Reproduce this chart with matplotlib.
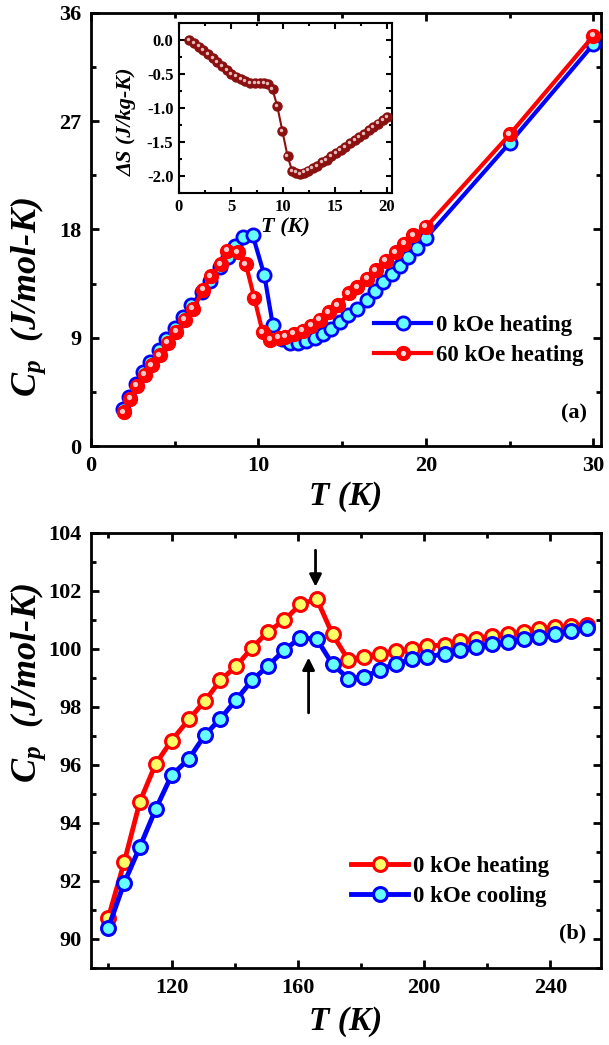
import matplotlib
matplotlib.use('Agg')
import matplotlib.pyplot as plt
from matplotlib.ticker import MultipleLocator, FormatStrFormatter
from matplotlib.transforms import offset_copy
from matplotlib.lines import Line2D
from matplotlib.legend_handler import HandlerTuple

plt.rcParams['font.family'] = ['Liberation Serif', 'DejaVu Serif']
plt.rcParams['font.weight'] = 'bold'
plt.rcParams['axes.unicode_minus'] = False
plt.rcParams['mathtext.fontset'] = 'custom'
plt.rcParams['mathtext.rm'] = 'Liberation Serif:bold'
plt.rcParams['mathtext.it'] = 'Liberation Serif:bold:italic'
plt.rcParams['mathtext.bf'] = 'Liberation Serif:bold'

# ---- panel (a): low temperature Cp ----
T_0k = [1.9, 2.25, 2.7, 3.1, 3.55, 4.05, 4.5, 5.0, 5.5, 6.0, 6.6, 7.1, 7.7, 8.2, 8.6,
        9.1, 9.65, 10.35, 10.85, 11.4, 11.9, 12.35, 12.85, 13.35, 13.85, 14.35, 14.85,
        15.35, 15.9, 16.45, 16.95, 17.45, 17.95, 18.45, 18.95, 19.45, 20.0, 25.0, 30.0]
Cp_0k = [3.1, 4.1, 5.15, 6.15, 7.0, 7.95, 8.9, 9.8, 10.75, 11.7, 12.8, 13.75, 14.85, 15.7, 16.6,
         17.4, 17.55, 14.2, 10.1, 8.9, 8.55, 8.6, 8.75, 9.0, 9.3, 9.75, 10.3,
         10.85, 11.4, 12.1, 12.85, 13.6, 14.3, 15.0, 15.75, 16.5, 17.3, 25.2, 33.4]

T_60k = [1.95, 2.35, 2.75, 3.2, 3.65, 4.1, 4.6, 5.1, 5.6, 6.1, 6.7, 7.15, 7.75, 8.15, 8.75,
         9.25, 9.75, 10.25, 10.7, 11.2, 11.6, 12.1, 12.65, 13.15, 13.65, 14.2, 14.75,
         15.4, 15.9, 16.5, 17.0, 17.6, 18.2, 18.7, 19.25, 20.0, 25.0, 30.0]
Cp_60k = [2.8, 3.9, 5.0, 5.9, 6.7, 7.55, 8.55, 9.5, 10.5, 11.4, 13.0, 14.1, 15.1, 16.25, 16.1,
          15.1, 12.3, 9.45, 8.8, 9.0, 9.1, 9.3, 9.6, 10.0, 10.5, 11.1, 11.7,
          12.7, 13.2, 13.9, 14.6, 15.4, 16.1, 16.8, 17.5, 18.2, 25.9, 34.1]

# ---- inset: entropy change ----
T_in = [1.0, 1.45, 1.9, 2.35, 2.8, 3.25, 3.7, 4.15, 4.6, 5.05, 5.5, 5.95, 6.4, 6.85, 7.3,
        7.75, 8.2, 8.6, 9.0, 9.45, 9.95, 10.45, 10.9, 11.3, 11.65, 12.05, 12.45, 12.85,
        13.3, 13.75, 14.2, 14.65, 15.1, 15.55, 16.0, 16.45, 16.9, 17.35, 17.8, 18.25,
        18.7, 19.15, 19.6, 20.05]
dS_in = [0.0, -0.05, -0.10, -0.15, -0.21, -0.27, -0.33, -0.39, -0.45, -0.50, -0.54, -0.58,
         -0.61, -0.63, -0.63, -0.63, -0.63, -0.65, -0.73, -0.97, -1.34, -1.71, -1.93, -1.95,
         -1.97, -1.95, -1.92, -1.89, -1.85, -1.80, -1.76, -1.71, -1.66, -1.62, -1.57,
         -1.52, -1.47, -1.43, -1.38, -1.33, -1.28, -1.23, -1.18, -1.13]

# ---- panel (b): high temperature Cp ----
T_hi = [100, 105, 110, 115, 120, 125.5, 130.5, 135.5, 140.5, 145.5, 150.5, 155.7, 160.8, 166,
        171, 176, 181, 186, 191, 196, 201, 206.5, 211.5, 216.5, 221.5, 226.5, 231.5,
        236.5, 241.5, 246.5, 251.5]
Cp_heat = [90.74, 92.64, 94.74, 96.04, 96.84, 97.57, 98.2, 98.92, 99.41, 100.04, 100.59,
           100.99, 101.54, 101.72, 100.5, 99.62, 99.72, 99.84, 99.92, 99.99, 100.09, 100.15,
           100.27, 100.34, 100.44, 100.5, 100.59, 100.68, 100.74, 100.8, 100.84]
Cp_cool = [90.39, 91.93, 93.18, 94.48, 95.64, 96.21, 97.02, 97.6, 98.25, 98.92, 99.41,
           99.96, 100.39, 100.34, 99.47, 98.98, 99.03, 99.29, 99.49, 99.64, 99.72, 99.84,
           99.98, 100.07, 100.16, 100.24, 100.33, 100.42, 100.51, 100.62, 100.71]

fig = plt.figure(figsize=(6.09, 10.45), dpi=100)


def shiny(ax, x, y, color, size, hl, zorder):
    ax.plot(x, y, 'o', ls='none', ms=size, mfc=color, mec=color, zorder=zorder)
    tr = offset_copy(ax.transData, fig=fig, x=-size * 0.12, y=size * 0.12, units='points')
    ax.plot(x, y, 'o', ls='none', ms=size * 0.38, mfc=hl, mec='none', alpha=0.9,
            transform=tr, zorder=zorder + 0.1)


def style(ax, xmaj, xmin, ymaj, ymin, lsize, width=2.0, length=6):
    ax.xaxis.set_major_locator(MultipleLocator(xmaj))
    ax.xaxis.set_minor_locator(MultipleLocator(xmin))
    ax.yaxis.set_major_locator(MultipleLocator(ymaj))
    ax.yaxis.set_minor_locator(MultipleLocator(ymin))
    ax.tick_params(which='both', direction='in', top=True, right=True, width=width)
    ax.tick_params(which='major', length=length, labelsize=lsize, pad=7)
    ax.tick_params(which='minor', length=length * 0.6)
    for s in ax.spines.values():
        s.set_linewidth(width)


cp_label = r'$C_p$  (J/mol-K)'

# panel (a)
ax1 = fig.add_axes([0.1494, 0.5732, 0.8375, 0.4144])
ax1.plot(T_0k, Cp_0k, '-o', color='blue', lw=3, ms=9.5, mfc='#66ffff', mec='blue', mew=2,
         zorder=3)
ax1.plot(T_60k, Cp_60k, '-', color='red', lw=3, zorder=4)
shiny(ax1, T_60k, Cp_60k, 'red', 10, '#ffe0e0', 5)
ax1.set_xlim(0, 30.45)
ax1.set_ylim(0, 36)
style(ax1, 10, 5, 9, 4.5, 16)
ax1.set_xlabel('T (K)', fontsize=24, fontstyle='italic', fontweight='bold', labelpad=4)
ax1.set_ylabel(cp_label, fontsize=26, fontstyle='italic', fontweight='bold')
ax1.yaxis.set_label_coords(-0.085, 0.345)
ax1.text(0.972, 0.075, '(a)', transform=ax1.transAxes, ha='right', va='center', fontsize=16)

h0 = Line2D([], [], color='blue', lw=3, marker='o', ms=9.5, mfc='#66ffff', mec='blue', mew=2)
h60a = Line2D([], [], color='red', lw=3, marker='o', ms=10, mfc='red', mec='red')
h60b = Line2D([], [], ls='none', marker='o', ms=3.8, mfc='#ffe0e0', mec='none')
ax1.legend([h0, (h60a, h60b)], ['0 kOe heating', '60 kOe heating'],
           handler_map={tuple: HandlerTuple(ndivide=1, pad=0)},
           loc='upper left', bbox_to_anchor=(0.555, 0.302), frameon=False,
           fontsize=16.5, handlelength=2.5, handletextpad=0.2, labelspacing=0.4,
           borderpad=0, borderaxespad=0)

# inset
axi = fig.add_axes([0.2939, 0.8153, 0.3498, 0.163])
axi.plot(T_in, dS_in, '-', color='#8b1010', lw=1.5, zorder=3)
shiny(axi, T_in, dS_in, '#8b1010', 6.5, '#f0d0d0', 4)
axi.set_xlim(0, 20.5)
axi.set_ylim(-2.25, 0.25)
style(axi, 5, 2.5, 0.5, 0.25, 12, width=1.5, length=4)
axi.tick_params(which='major', pad=4)
axi.yaxis.set_major_formatter(FormatStrFormatter('%.1f'))
axi.set_xlabel('T (K)', fontsize=16, fontstyle='italic', fontweight='bold', labelpad=2)
axi.set_ylabel('\u0394S (J/kg-K)', fontsize=16, fontstyle='italic', fontweight='bold',
               labelpad=2)
axi.yaxis.set_label_coords(-0.2, 0.42)

# panel (b)
ax2 = fig.add_axes([0.1494, 0.0737, 0.8375, 0.4163])
ax2.plot(T_hi, Cp_heat, '-o', color='red', lw=3.5, ms=10, mfc='#ffff66', mec='red',
         mew=2.2, zorder=3, label='0 kOe heating')
ax2.plot(T_hi, Cp_cool, '-o', color='blue', lw=3.5, ms=10, mfc='#66ffff', mec='blue',
         mew=2.2, zorder=4, label='0 kOe cooling')
ax2.set_xlim(94.5, 256)
ax2.set_ylim(89, 104)
style(ax2, 40, 20, 2, 1, 16)
ax2.set_xlabel('T (K)', fontsize=24, fontstyle='italic', fontweight='bold', labelpad=6)
ax2.set_ylabel(cp_label, fontsize=26, fontstyle='italic', fontweight='bold')
ax2.yaxis.set_label_coords(-0.085, 0.655)
ax2.text(0.972, 0.08, '(b)', transform=ax2.transAxes, ha='right', va='center', fontsize=16)
ax2.annotate('', xy=(165.6, 102.05), xytext=(165.6, 103.5),
             arrowprops=dict(arrowstyle='-|>', color='black', lw=2, mutation_scale=18))
ax2.annotate('', xy=(163.4, 99.8), xytext=(163.4, 97.7),
             arrowprops=dict(arrowstyle='-|>', color='black', lw=2, mutation_scale=18))
ax2.legend(loc='upper left', bbox_to_anchor=(0.51, 0.258), frameon=False,
           fontsize=16.5, handlelength=2.5, handletextpad=0.2, labelspacing=0.4,
           borderpad=0, borderaxespad=0)

fig.savefig('out.png', dpi=100)
